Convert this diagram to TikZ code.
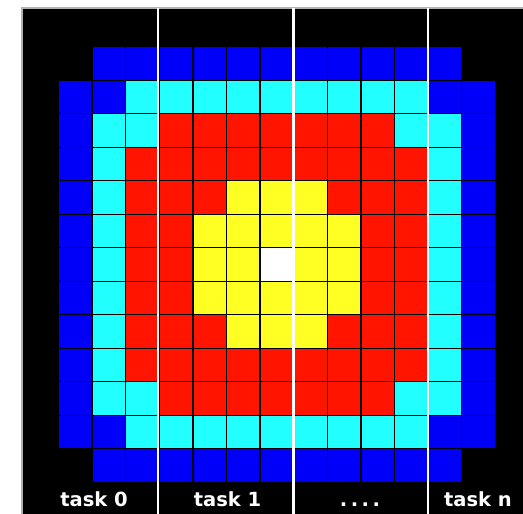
\documentclass[tikz,border=0pt]{standalone}
\usepackage{fontspec}
\newfontfamily\lblfont{DejaVu Sans}
\definecolor{bl}{RGB}{0,0,250}
\definecolor{cy}{RGB}{34,255,255}
\definecolor{rd}{RGB}{255,20,0}
\definecolor{ylw}{RGB}{255,255,36}
\tikzset{
  cell/.style={draw=black, line width=1.3pt},
  sep/.style={draw=white, line width=2.2pt},
  lbl/.style={text=white, font=\lblfont\bfseries\fontsize{19.5}{20}\selectfont, anchor=base, inner sep=0pt}
}
\begin{document}
\begin{tikzpicture}[x=1pt,y=-1pt]
\useasboundingbox (0,0) rectangle (523,514);
\fill[white] (0,0) rectangle (523,514);
% black field
\fill[black] (22,8) rectangle (523,514);
\draw[gray!60, line width=1.2pt] (22,514) -- (22,8) -- (523,8);
% cells
\foreach \i in {1,...,13}{
  \foreach \j in {1,...,13}{
    \pgfmathtruncatemacro\ax{abs(\i-7)}
    \pgfmathtruncatemacro\ay{abs(\j-7)}
    \pgfmathtruncatemacro\mx{max(\ax,\ay)}
    \pgfmathtruncatemacro\lv{2*\mx}
    \ifnum\ax=\ay \ifnum\ax>1 \pgfmathtruncatemacro\lv{2*\mx+1}\fi\fi
    \ifnum\lv=0 \def\cc{white}\else
    \ifnum\lv<5 \def\cc{ylw}\else
    \ifnum\lv<9 \def\cc{rd}\else
    \ifnum\lv<11 \def\cc{cy}\else
    \ifnum\lv<13 \def\cc{bl}\else
    \def\cc{none}\fi\fi\fi\fi\fi
    \ifnum\lv<13
      \path[cell, fill=\cc] ({58.5+(\i-1)*33.6},{46.8+(\j-1)*33.5}) rectangle ++(33.6,33.5);
    \fi
  }
}
% task separators
\coordinate (s1t) at (158,8);   \coordinate (s1b) at (158,514);
\coordinate (s2t) at (293.5,8); \coordinate (s2b) at (293.5,514);
\coordinate (s3t) at (428,8);   \coordinate (s3b) at (428,514);
\draw[sep] (s1t) -- (s1b);
\draw[sep] (s2t) -- (s2b);
\draw[sep] (s3t) -- (s3b);
% labels
\node[lbl] (t0) at (94,506) {task 0};
\node[lbl] (t1) at (227.5,506) {task 1};
\node[lbl] (tdots) at (360,506) {.\kern3.5pt.\kern3.5pt.\kern3.5pt.};
\node[lbl] (tn) at (478,506) {task n};
\end{tikzpicture}
\end{document}
